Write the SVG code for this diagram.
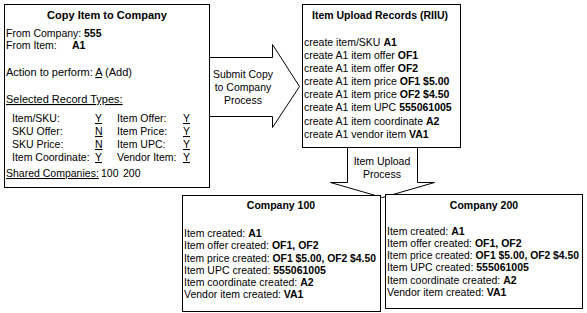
<svg xmlns="http://www.w3.org/2000/svg" width="587" height="313" viewBox="0 0 587 313">
<style>
text{font-family:"Liberation Sans",Arial,sans-serif;font-size:10.5px;fill:#000}
.b{font-weight:bold}
.u{text-decoration:underline}
.box{fill:#fff;stroke:#000;stroke-width:1}
.arr{fill:#fff;stroke:#000;stroke-width:1}
.big{font-size:11px}
</style>
<rect width="587" height="313" fill="#fff"/>
<g id="connectors">
<polygon class="arr" points="209.5,57.5 272.5,57.5 272.5,44.5 299.5,86.5 272.5,127.5 272.5,116.5 209.5,116.5"/>
<text x="243" y="78" text-anchor="middle">Submit Copy</text>
<text x="243" y="91" text-anchor="middle">to Company</text>
<text x="243" y="104" text-anchor="middle">Process</text>
<polygon class="arr" points="347.5,147.5 417.5,147.5 417.5,182.5 434.5,182.5 382.5,197.5 330.5,182.5 347.5,182.5"/>
<text x="382" y="165" text-anchor="middle">Item Upload</text>
<text x="382" y="178" text-anchor="middle">Process</text>
</g>
<g id="copy-item">
<rect class="box" x="4.5" y="4.5" width="205" height="183"/>
<text x="107" y="19" text-anchor="middle" class="b big">Copy Item to Company</text>
<text x="6" y="37">From Company:</text><text x="84" y="37" class="b">555</text>
<text x="6" y="49">From Item:</text><text x="72" y="49" class="b">A1</text>
<text x="6" y="76" class="big">Action to perform: <tspan class="u">A</tspan> (Add)</text>
<text x="6" y="103" class="u big">Selected Record Types:</text>
<text x="12" y="122">Item/SKU:</text><text x="95" y="122" class="u">Y</text>
<text x="117" y="122">Item Offer:</text><text x="183" y="122" class="u">Y</text>
<text x="12" y="135">SKU Offer:</text><text x="95" y="135" class="u">N</text>
<text x="117" y="135">Item Price:</text><text x="183" y="135" class="u">Y</text>
<text x="12" y="148">SKU Price:</text><text x="95" y="148" class="u">N</text>
<text x="117" y="148">Item UPC:</text><text x="183" y="148" class="u">Y</text>
<text x="12" y="161">Item Coordinate:</text><text x="95" y="161" class="u">Y</text>
<text x="117" y="161">Vendor Item:</text><text x="183" y="161" class="u">Y</text>
<text x="6" y="177" class="u">Shared Companies:</text><text x="101" y="177">100</text><text x="123" y="177">200</text>
</g>
<g id="upload-records">
<rect class="box" x="302.5" y="4.5" width="158" height="143"/>
<text x="380" y="19" text-anchor="middle" class="b">Item Upload Records (RIIU)</text>
<text x="304" y="46">create item/SKU <tspan class="b">A1</tspan></text>
<text x="304" y="59">create A1 item offer <tspan class="b">OF1</tspan></text>
<text x="304" y="72">create A1 item offer <tspan class="b">OF2</tspan></text>
<text x="304" y="85">create A1 item price <tspan class="b">OF1 $5.00</tspan></text>
<text x="304" y="98">create A1 item price <tspan class="b">OF2 $4.50</tspan></text>
<text x="304" y="111">create A1 item UPC <tspan class="b">555061005</tspan></text>
<text x="304" y="125">create A1 item coordinate <tspan class="b">A2</tspan></text>
<text x="304" y="138">create A1 vendor item <tspan class="b">VA1</tspan></text>
</g>
<g id="company-100">
<rect class="box" x="182.5" y="195.5" width="198" height="116"/>
<text x="281" y="209" text-anchor="middle" class="b">Company 100</text>
<text x="184" y="237">Item created: <tspan class="b">A1</tspan></text>
<text x="184" y="249">Item offer created: <tspan class="b">OF1, OF2</tspan></text>
<text x="184" y="262" textLength="192" lengthAdjust="spacingAndGlyphs">Item price created: <tspan class="b">OF1 $5.00, OF2 $4.50</tspan></text>
<text x="184" y="274">Item UPC created: <tspan class="b">555061005</tspan></text>
<text x="184" y="286">Item coordinate created: <tspan class="b">A2</tspan></text>
<text x="184" y="298">Vendor item created: <tspan class="b">VA1</tspan></text>
</g>
<g id="company-200">
<rect class="box" x="385.5" y="194.5" width="197" height="114"/>
<text x="484" y="209" text-anchor="middle" class="b">Company 200</text>
<text x="387" y="235">Item created: <tspan class="b">A1</tspan></text>
<text x="387" y="247">Item offer created: <tspan class="b">OF1, OF2</tspan></text>
<text x="387" y="259" textLength="192" lengthAdjust="spacingAndGlyphs">Item price created: <tspan class="b">OF1 $5.00, OF2 $4.50</tspan></text>
<text x="387" y="271">Item UPC created: <tspan class="b">555061005</tspan></text>
<text x="387" y="284">Item coordinate created: <tspan class="b">A2</tspan></text>
<text x="387" y="296">Vendor item created: <tspan class="b">VA1</tspan></text>
</g>
</svg>
